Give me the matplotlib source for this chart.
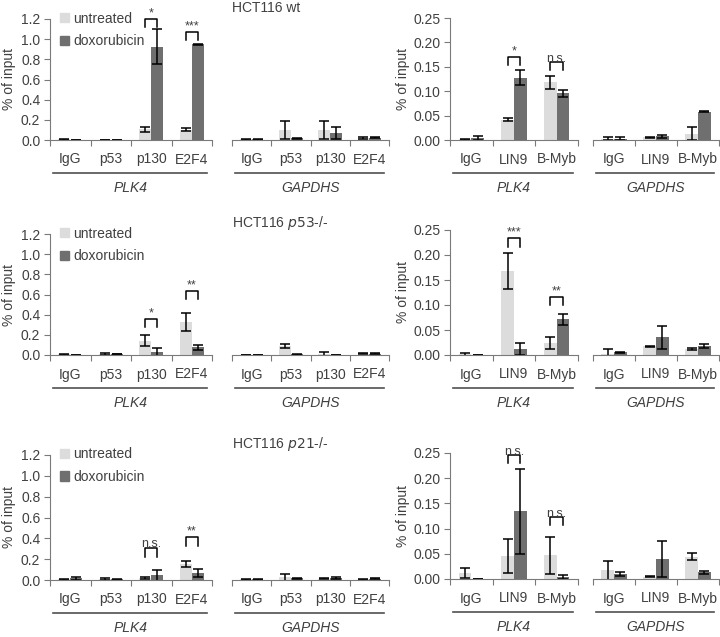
# ChIP-qPCR panels: % of input at PLK4 / GAPDHS, untreated vs doxorubicin

import numpy as np
import matplotlib.pyplot as plt
from matplotlib.patches import Patch
from matplotlib.lines import Line2D

plt.rcParams['font.family'] = ['Liberation Sans', 'DejaVu Sans']

# --- DATA ---
tf_groups = ['IgG', 'p53', 'p130', 'E2F4']
mmb_groups = ['IgG', 'LIN9', 'B-Myb']
legend_labels = ['untreated', 'doxorubicin']
row_titles = [r'HCT116 wt', r'HCT116 $\it{p53}$-/-', r'HCT116 $\it{p21}$-/-']

# HCT116 wt
wt_tf_plk4_unt = [0.005, 0.002, 0.105, 0.10]
wt_tf_plk4_unt_sd = [0.003, 0.001, 0.025, 0.015]
wt_tf_plk4_dox = [0.002, 0.002, 0.925, 0.95]
wt_tf_plk4_dox_sd = [0.001, 0.001, 0.175, 0.005]
wt_tf_gapdhs_unt = [0.005, 0.10, 0.10, 0.02]
wt_tf_gapdhs_unt_sd = [0.003, 0.09, 0.09, 0.01]
wt_tf_gapdhs_dox = [0.005, 0.015, 0.065, 0.02]
wt_tf_gapdhs_dox_sd = [0.003, 0.005, 0.06, 0.005]
wt_mmb_plk4_unt = [0.002, 0.042, 0.118]
wt_mmb_plk4_unt_sd = [0.001, 0.003, 0.013]
wt_mmb_plk4_dox = [0.005, 0.128, 0.096]
wt_mmb_plk4_dox_sd = [0.004, 0.015, 0.007]
wt_mmb_gapdhs_unt = [0.003, 0.006, 0.013]
wt_mmb_gapdhs_unt_sd = [0.004, 0.001, 0.013]
wt_mmb_gapdhs_dox = [0.003, 0.008, 0.058]
wt_mmb_gapdhs_dox_sd = [0.004, 0.003, 0.001]

# HCT116 p53-/-
p53_tf_plk4_unt = [0.005, 0.012, 0.14, 0.33]
p53_tf_plk4_unt_sd = [0.003, 0.01, 0.055, 0.09]
p53_tf_plk4_dox = [0.002, 0.008, 0.03, 0.075]
p53_tf_plk4_dox_sd = [0.001, 0.003, 0.035, 0.025]
p53_tf_gapdhs_unt = [0.002, 0.09, 0.005, 0.01]
p53_tf_gapdhs_unt_sd = [0.001, 0.02, 0.025, 0.005]
p53_tf_gapdhs_dox = [0.002, 0.005, 0.002, 0.01]
p53_tf_gapdhs_dox_sd = [0.001, 0.002, 0.001, 0.005]
p53_mmb_plk4_unt = [0.002, 0.168, 0.024]
p53_mmb_plk4_unt_sd = [0.003, 0.036, 0.012]
p53_mmb_plk4_dox = [0.0005, 0.013, 0.072]
p53_mmb_plk4_dox_sd = [0.0, 0.012, 0.011]
p53_mmb_gapdhs_unt = [0.003, 0.018, 0.012]
p53_mmb_gapdhs_unt_sd = [0.01, 0.001, 0.002]
p53_mmb_gapdhs_dox = [0.006, 0.036, 0.018]
p53_mmb_gapdhs_dox_sd = [0.001, 0.023, 0.004]

# HCT116 p21-/-
p21_tf_plk4_unt = [0.005, 0.01, 0.015, 0.155]
p21_tf_plk4_unt_sd = [0.003, 0.01, 0.01, 0.03]
p21_tf_plk4_dox = [0.015, 0.005, 0.045, 0.07]
p21_tf_plk4_dox_sd = [0.015, 0.003, 0.05, 0.04]
p21_tf_gapdhs_unt = [0.005, 0.025, 0.01, 0.005]
p21_tf_gapdhs_unt_sd = [0.003, 0.035, 0.005, 0.003]
p21_tf_gapdhs_dox = [0.005, 0.015, 0.015, 0.01]
p21_tf_gapdhs_dox_sd = [0.003, 0.003, 0.01, 0.005]
p21_mmb_plk4_unt = [0.012, 0.046, 0.047]
p21_mmb_plk4_unt_sd = [0.01, 0.034, 0.037]
p21_mmb_plk4_dox = [0.0005, 0.134, 0.004]
p21_mmb_plk4_dox_sd = [0.0, 0.085, 0.004]
p21_mmb_gapdhs_unt = [0.017, 0.004, 0.044]
p21_mmb_gapdhs_unt_sd = [0.019, 0.001, 0.007]
p21_mmb_gapdhs_dox = [0.01, 0.04, 0.013]
p21_mmb_gapdhs_dox_sd = [0.004, 0.036, 0.003]

# significance brackets: (group index, label, bracket top, leg bottom)
wt_tf_sig = [(2, '*', 1.20, 1.12), (3, '***', 1.07, 0.99)]
wt_mmb_sig = [(1, '*', 0.170, 0.154), (2, 'n.s.', 0.160, 0.143)]
p53_tf_sig = [(2, '*', 0.357, 0.278), (3, '**', 0.635, 0.555)]
p53_mmb_sig = [(1, '***', 0.234, 0.216), (2, '**', 0.116, 0.100)]
p21_tf_sig = [(2, 'n.s.', 0.31, 0.22), (3, '**', 0.41, 0.33)]
p21_mmb_sig = [(1, 'n.s.', 0.246, 0.230), (2, 'n.s.', 0.123, 0.107)]

# --- STYLE / LAYOUT (pixels) ---
W, H = 720, 637
LIGHT = '#dcdcdc'
DARK = '#6f6f6f'
TXT = '#404040'
SPINE = '#7a7a7a'
BW = 0.3

# (y of zero, y of top) for left/right panels per row
row_left_y = [(140, 19), (355, 234), (580, 455)]
row_right_y = [(140, 18), (355, 230), (579, 453)]
x_tf_plk4 = (50, 212)
x_tf_gapdhs = (232, 389)
x_mmb_plk4 = (450, 578)
x_mmb_gapdhs = (593, 719)

fig = plt.figure(figsize=(W / 100, H / 100), dpi=100)


def px_axes(x0, x1, ybot, ytop):
    return fig.add_axes([x0 / W, (H - ybot) / H, (x1 - x0) / W, (ybot - ytop) / H])


def draw_panel(ax, groups, unt, unt_sd, dox, dox_sd, ymax, yticks, fmt, show_y, sig=()):
    n = len(groups)
    x = np.arange(n) + 0.5
    ekw = dict(ecolor='black', elinewidth=1.1, capsize=3.5, capthick=1.1)
    ax.bar(x - BW / 2, unt, BW, color=LIGHT, yerr=unt_sd, error_kw=ekw)
    ax.bar(x + BW / 2, dox, BW, color=DARK, yerr=dox_sd, error_kw=ekw)
    ax.set_xlim(0, n)
    ax.set_ylim(0, ymax)
    for s in ['top', 'right']:
        ax.spines[s].set_visible(False)
    ax.spines['bottom'].set_color(SPINE)
    ax.spines['left'].set_color(SPINE)
    ax.set_xticks(range(n + 1))
    ax.set_xticklabels([])
    ax.set_xticks(x, minor=True)
    ax.set_xticklabels(groups, minor=True, fontsize=10, color=TXT)
    ax.tick_params(axis='x', which='major', length=4, color=SPINE)
    ax.tick_params(axis='x', which='minor', length=0, pad=9)
    if show_y:
        ax.set_yticks(yticks)
        ax.set_yticklabels([fmt.format(v) for v in yticks], fontsize=10, color=TXT)
        ax.tick_params(axis='y', length=4, color=SPINE, pad=3)
    else:
        ax.spines['left'].set_visible(False)
        ax.set_yticks([])
    for gi, lab, top, low in sig:
        xl, xr = x[gi] - BW / 2, x[gi] + BW / 2
        ax.plot([xl, xl, xr, xr], [low, top, top, low], color='black', lw=1.1, clip_on=False)
        dy = -2 if lab == 'n.s.' else 0
        ax.annotate(lab, (x[gi], top), xytext=(0, dy), textcoords='offset points',
                    ha='center', va='bottom', fontsize=9, color=TXT)


def underline(x0, x1, ybot, name):
    fig.add_artist(Line2D([(x0 + 3) / W, (x1 - 5) / W], [(H - ybot - 33) / H] * 2,
                          color='#505050', lw=1.2))
    fig.text((x0 + x1) / 2 / W, (H - ybot - 48) / H, name, ha='center', va='center',
             fontsize=10, style='italic', color=TXT)


rows = [
    ('wt', wt_tf_plk4_unt, wt_tf_plk4_unt_sd, wt_tf_plk4_dox, wt_tf_plk4_dox_sd,
     wt_tf_gapdhs_unt, wt_tf_gapdhs_unt_sd, wt_tf_gapdhs_dox, wt_tf_gapdhs_dox_sd,
     wt_mmb_plk4_unt, wt_mmb_plk4_unt_sd, wt_mmb_plk4_dox, wt_mmb_plk4_dox_sd,
     wt_mmb_gapdhs_unt, wt_mmb_gapdhs_unt_sd, wt_mmb_gapdhs_dox, wt_mmb_gapdhs_dox_sd,
     wt_tf_sig, wt_mmb_sig),
    ('p53', p53_tf_plk4_unt, p53_tf_plk4_unt_sd, p53_tf_plk4_dox, p53_tf_plk4_dox_sd,
     p53_tf_gapdhs_unt, p53_tf_gapdhs_unt_sd, p53_tf_gapdhs_dox, p53_tf_gapdhs_dox_sd,
     p53_mmb_plk4_unt, p53_mmb_plk4_unt_sd, p53_mmb_plk4_dox, p53_mmb_plk4_dox_sd,
     p53_mmb_gapdhs_unt, p53_mmb_gapdhs_unt_sd, p53_mmb_gapdhs_dox, p53_mmb_gapdhs_dox_sd,
     p53_tf_sig, p53_mmb_sig),
    ('p21', p21_tf_plk4_unt, p21_tf_plk4_unt_sd, p21_tf_plk4_dox, p21_tf_plk4_dox_sd,
     p21_tf_gapdhs_unt, p21_tf_gapdhs_unt_sd, p21_tf_gapdhs_dox, p21_tf_gapdhs_dox_sd,
     p21_mmb_plk4_unt, p21_mmb_plk4_unt_sd, p21_mmb_plk4_dox, p21_mmb_plk4_dox_sd,
     p21_mmb_gapdhs_unt, p21_mmb_gapdhs_unt_sd, p21_mmb_gapdhs_dox, p21_mmb_gapdhs_dox_sd,
     p21_tf_sig, p21_mmb_sig),
]

left_ticks = [0.0, 0.2, 0.4, 0.6, 0.8, 1.0, 1.2]
right_ticks = [0.0, 0.05, 0.10, 0.15, 0.20, 0.25]

for r, row in enumerate(rows):
    d = row[1:17]
    tf_sig, mmb_sig = row[17], row[18]
    lb, lt = row_left_y[r]
    rb, rt = row_right_y[r]

    ax = px_axes(*x_tf_plk4, lb, lt)
    draw_panel(ax, tf_groups, *d[0:4], 1.2, left_ticks, '{:.1f}', True, tf_sig)
    ax.legend(handles=[Patch(color=LIGHT), Patch(color=DARK)], labels=legend_labels,
              loc='upper left', bbox_to_anchor=(0.06, 1.06), frameon=False, borderpad=0,
              borderaxespad=0, handlelength=0.65, handleheight=0.65, handletextpad=0.3,
              labelspacing=0.6, fontsize=10, labelcolor=TXT)
    underline(*x_tf_plk4, lb, 'PLK4')
    fig.text(9 / W, (H - (lb + lt) / 2) / H, '% of input', rotation=90,
             ha='center', va='center', fontsize=10, color=TXT)

    ax = px_axes(*x_tf_gapdhs, lb, lt)
    draw_panel(ax, tf_groups, *d[4:8], 1.2, left_ticks, '{:.1f}', False)
    underline(*x_tf_gapdhs, lb, 'GAPDHS')
    fig.text(x_tf_gapdhs[0] / W, (H - lt + 11) / H, row_titles[r], ha='left',
             va='center', fontsize=10, color=TXT)

    ax = px_axes(*x_mmb_plk4, rb, rt)
    draw_panel(ax, mmb_groups, *d[8:12], 0.25, right_ticks, '{:.2f}', True, mmb_sig)
    underline(*x_mmb_plk4, rb, 'PLK4')
    fig.text(403 / W, (H - (rb + rt) / 2) / H, '% of input', rotation=90,
             ha='center', va='center', fontsize=10, color=TXT)

    ax = px_axes(*x_mmb_gapdhs, rb, rt)
    draw_panel(ax, mmb_groups, *d[12:16], 0.25, right_ticks, '{:.2f}', False)
    underline(*x_mmb_gapdhs, rb, 'GAPDHS')

fig.savefig('out.png', dpi=100)
